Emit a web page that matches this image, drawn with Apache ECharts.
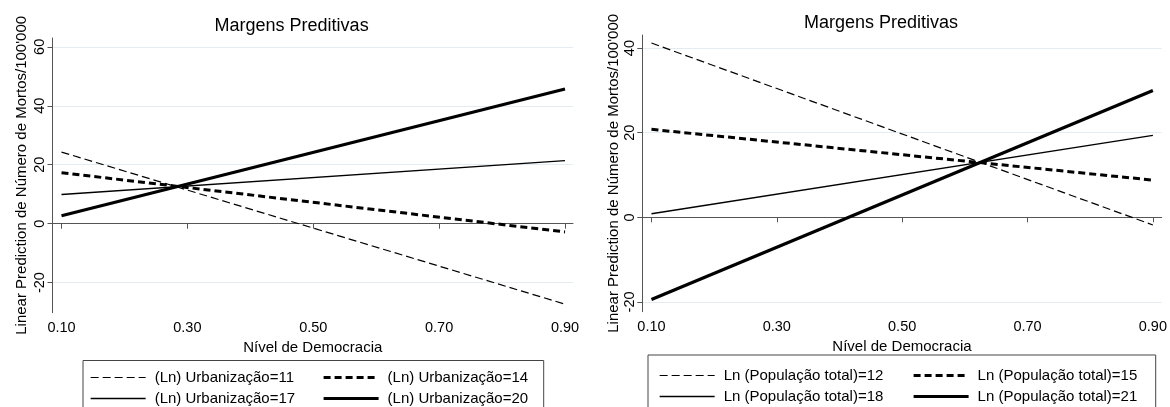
<!DOCTYPE html>
<html><head><meta charset="utf-8">
<script src="https://cdn.jsdelivr.net/npm/echarts@6/dist/echarts.min.js"></script>
<style>html,body{margin:0;padding:0;background:#fff}#c{width:1170px;height:407px}</style>
</head><body><div id="c"></div>
<script>
// ---- data ----
const democracia = [0.10, 0.90];
const xTicks = [0.10, 0.30, 0.50, 0.70, 0.90];
const leftYTicks = [-20, 0, 20, 40, 60];
const rightYTicks = [-20, 0, 20, 40];
const titleText = 'Margens Preditivas';
const xName = 'Nível de Democracia';
const yName = "Linear Prediction de Número de Mortos/100'000";

const urbNames = ['(Ln) Urbanização=11', '(Ln) Urbanização=14', '(Ln) Urbanização=17', '(Ln) Urbanização=20'];
const urb11 = [24.3, -27.3];
const urb14 = [17.3, -2.8];
const urb17 = [9.9, 21.4];
const urb20 = [2.7, 45.7];

const popNames = ['Ln (População total)=12', 'Ln (População total)=15', 'Ln (População total)=18', 'Ln (População total)=21'];
const pop12 = [41.2, -1.8];
const pop15 = [20.8, 8.8];
const pop18 = [0.85, 19.4];
const pop21 = [-19.4, 30.0];

// ---- styles ----
const FONT = 'Liberation Sans, Arial, sans-serif';
const lineStyles = [
  { type: [8, 4], width: 1.2 },
  { type: [7, 4], width: 3 },
  { type: 'solid', width: 1.3 },
  { type: 'solid', width: 3.2 }
];
const axisColor = '#555';
const gridColor = '#e4ecef';

function xAxisCfg(gridIndex, min, max) {
  return {
    type: 'value', gridIndex, min, max,
    name: xName, nameLocation: 'middle', nameGap: 26,
    nameTextStyle: { fontFamily: FONT, fontSize: 15, color: '#000' },
    axisLine: { show: true, lineStyle: { color: axisColor, width: 1 } },
    axisTick: { show: true, customValues: xTicks, length: 5, lineStyle: { color: axisColor } },
    axisLabel: { customValues: xTicks, formatter: v => v.toFixed(2), margin: 8,
      fontFamily: FONT, fontSize: 14.5, color: '#000' },
    splitLine: { show: false }
  };
}
function yAxisCfg(gridIndex, min, max, ticks, nameGap) {
  return {
    type: 'value', gridIndex, min, max,
    name: yName, nameLocation: 'middle', nameGap,
    nameTextStyle: { fontFamily: FONT, fontSize: 15, color: '#000' },
    axisLine: { show: true, lineStyle: { color: axisColor, width: 1 } },
    axisTick: { show: true, customValues: ticks, length: 5, lineStyle: { color: axisColor } },
    axisLabel: { customValues: ticks, rotate: 90, margin: 5,
      fontFamily: FONT, fontSize: 14.5, color: '#000' },
    splitLine: { show: true, lineStyle: { color: gridColor, width: 1 } }
  };
}
function mkSeries(names, arrays, idx) {
  return arrays.map((vals, i) => ({
    type: 'line', name: names[i], xAxisIndex: idx, yAxisIndex: idx,
    data: democracia.map((x, j) => [x, vals[j]]),
    symbol: 'none', silent: true,
    lineStyle: { color: '#000', type: lineStyles[i].type, width: lineStyles[i].width },
    itemStyle: { color: '#000' },
    emphasis: { disabled: true }, animation: false
  }));
}
function mkLegend(names, left, top) {
  return {
    data: names, orient: 'vertical', left, top, padding: 0,
    itemWidth: 55, itemHeight: 14, itemGap: 6, selectedMode: false,
    itemStyle: { opacity: 0 },
    lineStyle: { width: 'inherit', type: 'inherit', opacity: 1 },
    textStyle: { fontFamily: FONT, fontSize: 15, color: '#000', padding: [0, 0, 0, 4] }
  };
}

const chart = echarts.init(document.getElementById('c'), null, { renderer: 'canvas' });
chart.setOption({
  animation: false,
  backgroundColor: '#fff',
  title: [
    { text: titleText, left: 291.6, top: 17, textAlign: 'center', padding: 0,
      textStyle: { fontFamily: FONT, fontSize: 18, fontWeight: 'normal', color: '#000' } },
    { text: titleText, left: 881, top: 14, textAlign: 'center', padding: 0,
      textStyle: { fontFamily: FONT, fontSize: 18, fontWeight: 'normal', color: '#000' } }
  ],
  grid: [
    { left: 52.5, top: 38, width: 520.5, height: 274.7 },
    { left: 642.3, top: 35, width: 522.7, height: 276.7 }
  ],
  xAxis: [xAxisCfg(0, 0.0857, 0.9127), xAxisCfg(1, 0.0854, 0.914)],
  yAxis: [yAxisCfg(0, -30.2, 63, leftYTicks, 23), yAxisCfg(1, -22.3, 43.1, rightYTicks, 20)],
  legend: [
    mkLegend([urbNames[0], urbNames[2]], 90, 370),
    mkLegend([urbNames[1], urbNames[3]], 322, 370),
    mkLegend([popNames[0], popNames[2]], 659, 368),
    mkLegend([popNames[1], popNames[3]], 912, 368)
  ],
  graphic: [
    { type: 'rect', shape: { x: 83, y: 360.5, width: 460.7, height: 60 },
      style: { fill: 'none', stroke: '#444', lineWidth: 1 }, silent: true },
    { type: 'rect', shape: { x: 648, y: 355, width: 507.7, height: 70 },
      style: { fill: 'none', stroke: '#444', lineWidth: 1 }, silent: true }
  ],
  series: [
    ...mkSeries(urbNames, [urb11, urb14, urb17, urb20], 0),
    ...mkSeries(popNames, [pop12, pop15, pop18, pop21], 1)
  ]
});
</script></body></html>
